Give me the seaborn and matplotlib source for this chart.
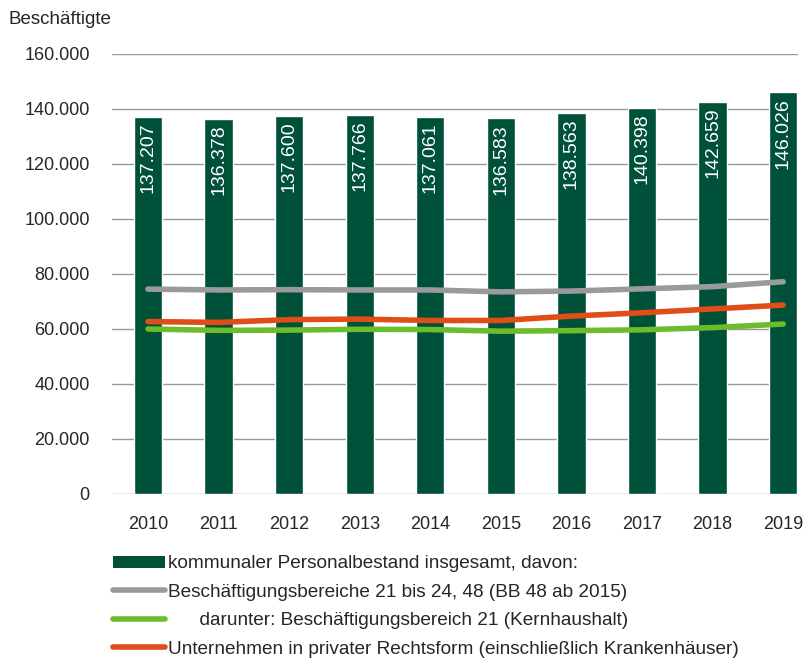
import numpy as np
import pandas as pd
import matplotlib
matplotlib.use('Agg')
import matplotlib.pyplot as plt
from matplotlib.lines import Line2D
from matplotlib.patches import Patch
import seaborn as sns

# ── Data ──────────────────────────────────────────────────────────────────────
years = ['2010', '2011', '2012', '2013', '2014', '2015', '2016', '2017', '2018', '2019']
total = [137207, 136378, 137600, 137766, 137061, 136583, 138563, 140398, 142659, 146026]
bb_21_48 = [74500, 74200, 74300, 74200, 74200, 73500, 73800, 74600, 75400, 77200]
bb_21 = [60000, 59500, 59600, 59900, 59800, 59200, 59400, 59700, 60500, 61800]
private = [62700, 62400, 63400, 63600, 63100, 63100, 64700, 65900, 67300, 68700]

labels = ['kommunaler Personalbestand insgesamt, davon:',
          'Beschäftigungsbereiche 21 bis 24, 48 (BB 48 ab 2015)',
          '      darunter: Beschäftigungsbereich 21 (Kernhaushalt)',
          'Unternehmen in privater Rechtsform (einschließlich Krankenhäuser)']

# ── Style ─────────────────────────────────────────────────────────────────────
sns.set_style('white')
plt.rcParams['font.family'] = ['Liberation Sans', 'DejaVu Sans']

DARK_GREEN = '#00513a'
GRAY = '#9a9a9a'
LIGHT_GREEN = '#6cbd2b'
ORANGE = '#e04d17'

fig = plt.figure(figsize=(8.06, 6.59), dpi=100)
ax = fig.add_axes([112 / 806, 1 - 494 / 659, (798 - 112) / 806, (494 - 54) / 659])

df = pd.DataFrame({'year': years, 'total': total})
sns.barplot(data=df, x='year', y='total', color=DARK_GREEN, width=0.4,
            saturation=1, ax=ax, zorder=2)

for vals, col in [(bb_21_48, GRAY), (bb_21, LIGHT_GREEN), (private, ORANGE)]:
    sns.pointplot(x=years, y=vals, color=col, markers='', linestyles='-',
                  linewidth=4, ax=ax, zorder=3)

for i, v in enumerate(total):
    ax.text(i, v - 2000, f'{v:,}'.replace(',', '.'), rotation=90, ha='center',
            va='top', color='white', fontsize=14, zorder=4)

ax.set_xlim(-0.51, 9.21)
ax.set_ylim(0, 160000)
ticks = np.arange(0, 160001, 20000)
ax.set_yticks(ticks)
ax.set_yticklabels([f'{t:,}'.replace(',', '.') for t in ticks])
ax.yaxis.grid(True, color='#999999', lw=1)
ax.set_axisbelow(True)
for s in ax.spines.values():
    s.set_visible(False)
ax.tick_params(axis='y', length=0, pad=16, labelsize=13)
ax.tick_params(axis='x', length=0, pad=16, labelsize=13)
ax.set_xlabel('')
ax.set_ylabel('')

fig.text(8 / 806, 1 - 20 / 659, 'Beschäftigte', fontsize=13.5, va='center', ha='left')

handles = [Patch(facecolor=DARK_GREEN, edgecolor='none'),
           Line2D([], [], color=GRAY, lw=4, solid_capstyle='round'),
           Line2D([], [], color=LIGHT_GREEN, lw=4, solid_capstyle='round'),
           Line2D([], [], color=ORANGE, lw=4, solid_capstyle='round')]
leg = fig.legend(handles, labels, loc='upper left', bbox_to_anchor=(100 / 806, 1 - 542 / 659),
                 frameon=False, handlelength=2.7, handleheight=0.6,
                 handletextpad=0.15, labelspacing=0.6, borderpad=0.2,
                 prop={'size': 13.7})

fig.savefig('out.png', dpi=100)
